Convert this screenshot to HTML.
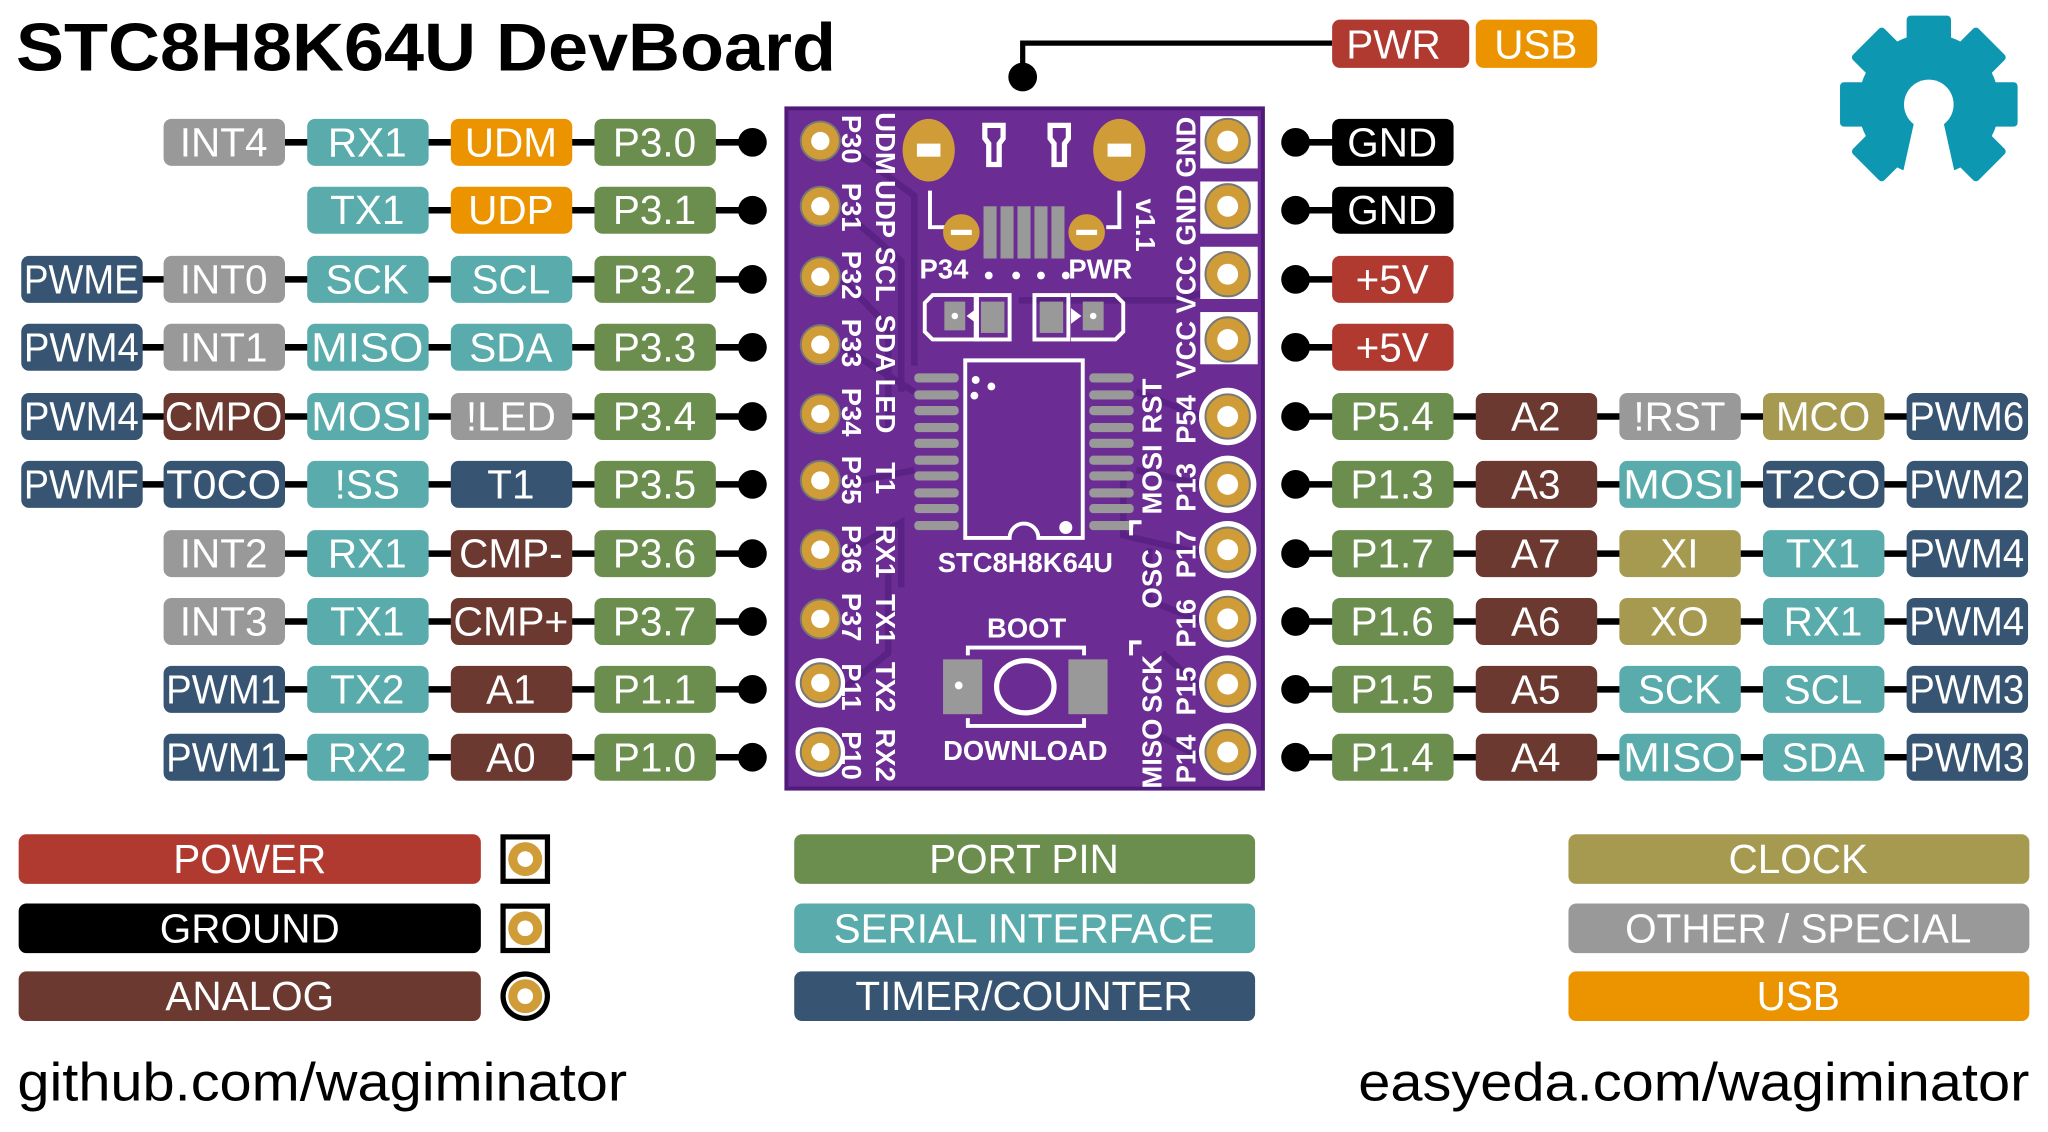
<!DOCTYPE html>
<html><head><meta charset="utf-8"><style>html,body{margin:0;padding:0;background:#fff;width:2048px;height:1132px;overflow:hidden}svg{display:block}</style></head><body>
<svg width="2048" height="1132" viewBox="0 0 1568 867" xmlns="http://www.w3.org/2000/svg" font-family="Liberation Sans, sans-serif">
<defs>
<style>
.l{fill:#fff;font-size:31px;text-anchor:middle;dominant-baseline:central}
.bt{fill:#fff;font-size:21px;font-weight:bold;dominant-baseline:central}
</style>
</defs>
<rect width="1568" height="867" fill="#fff"/>
<text x="12" y="54" font-size="52" font-weight="bold" fill="#000" textLength="628" lengthAdjust="spacingAndGlyphs">STC8H8K64U DevBoard</text>

<!-- top PWR/USB -->
<path d="M1020 33 H783 V58" stroke="#000" stroke-width="4" fill="none"/>
<circle cx="783" cy="59" r="11" fill="#000"/>
<rect x="1020" y="15" width="105" height="37" rx="6" fill="#b03a30"/><text class="l" x="1067" y="34">PWR</text>
<rect x="1130" y="15" width="93" height="37" rx="6" fill="#ec9400"/><text class="l" x="1176" y="34">USB</text>

<!-- gear -->
<g transform="translate(1477,80)" fill="#0e97b0">
<circle r="54"/>
<rect x="-17" y="-68" width="34" height="30" rx="3"/>
<rect x="-17" y="-68" width="34" height="30" rx="3" transform="rotate(45)"/>
<rect x="-17" y="-68" width="34" height="30" rx="3" transform="rotate(90)"/>
<rect x="-17" y="-68" width="34" height="30" rx="3" transform="rotate(135)"/>
<rect x="-17" y="-68" width="34" height="30" rx="3" transform="rotate(225)"/>
<rect x="-17" y="-68" width="34" height="30" rx="3" transform="rotate(270)"/>
<rect x="-17" y="-68" width="34" height="30" rx="3" transform="rotate(315)"/>
<circle r="19" fill="#fff"/>
<path d="M-10 8 L-22 62 L22 62 L10 8 Z" fill="#fff"/>
</g>

<!-- connector lines -->
<g stroke="#000" stroke-width="5">
<line x1="170" y1="109" x2="576" y2="109"/>
<line x1="280" y1="161" x2="576" y2="161"/>
<line x1="60" y1="214" x2="576" y2="214"/>
<line x1="60" y1="266" x2="576" y2="266"/>
<line x1="60" y1="319" x2="576" y2="319"/>
<line x1="60" y1="371" x2="576" y2="371"/>
<line x1="170" y1="424" x2="576" y2="424"/>
<line x1="170" y1="476" x2="576" y2="476"/>
<line x1="170" y1="528" x2="576" y2="528"/>
<line x1="170" y1="580" x2="576" y2="580"/>
<line x1="992" y1="109" x2="1060" y2="109"/>
<line x1="992" y1="161" x2="1060" y2="161"/>
<line x1="992" y1="214" x2="1060" y2="214"/>
<line x1="992" y1="266" x2="1060" y2="266"/>
<line x1="992" y1="319" x2="1500" y2="319"/>
<line x1="992" y1="371" x2="1500" y2="371"/>
<line x1="992" y1="424" x2="1500" y2="424"/>
<line x1="992" y1="476" x2="1500" y2="476"/>
<line x1="992" y1="528" x2="1500" y2="528"/>
<line x1="992" y1="580" x2="1500" y2="580"/>
</g>
<g fill="#000">
<circle cx="576" cy="109" r="11"/><circle cx="576" cy="161" r="11"/><circle cx="576" cy="214" r="11"/><circle cx="576" cy="266" r="11"/><circle cx="576" cy="319" r="11"/><circle cx="576" cy="371" r="11"/><circle cx="576" cy="424" r="11"/><circle cx="576" cy="476" r="11"/><circle cx="576" cy="528" r="11"/><circle cx="576" cy="580" r="11"/>
<circle cx="992" cy="109" r="11"/><circle cx="992" cy="161" r="11"/><circle cx="992" cy="214" r="11"/><circle cx="992" cy="266" r="11"/><circle cx="992" cy="319" r="11"/><circle cx="992" cy="371" r="11"/><circle cx="992" cy="424" r="11"/><circle cx="992" cy="476" r="11"/><circle cx="992" cy="528" r="11"/><circle cx="992" cy="580" r="11"/>
</g>

<!-- LEFT labels -->
<g>
<rect x="125" y="91" width="93" height="36" rx="6" fill="#999"/><text class="l" x="171" y="109">INT4</text>
<rect x="235" y="91" width="93" height="36" rx="6" fill="#5aabab"/><text class="l" x="281" y="109">RX1</text>
<rect x="345" y="91" width="93" height="36" rx="6" fill="#ec9400"/><text class="l" x="391" y="109">UDM</text>
<rect x="455" y="91" width="93" height="36" rx="6" fill="#6b8e4e"/><text class="l" x="501" y="109">P3.0</text>
<rect x="235" y="143" width="93" height="36" rx="6" fill="#5aabab"/><text class="l" x="281" y="161">TX1</text>
<rect x="345" y="143" width="93" height="36" rx="6" fill="#ec9400"/><text class="l" x="391" y="161">UDP</text>
<rect x="455" y="143" width="93" height="36" rx="6" fill="#6b8e4e"/><text class="l" x="501" y="161">P3.1</text>
<rect x="16" y="196" width="93" height="36" rx="6" fill="#375572"/><text class="l" x="62" y="214" textLength="88" lengthAdjust="spacingAndGlyphs">PWME</text>
<rect x="125" y="196" width="93" height="36" rx="6" fill="#999"/><text class="l" x="171" y="214">INT0</text>
<rect x="235" y="196" width="93" height="36" rx="6" fill="#5aabab"/><text class="l" x="281" y="214">SCK</text>
<rect x="345" y="196" width="93" height="36" rx="6" fill="#5aabab"/><text class="l" x="391" y="214">SCL</text>
<rect x="455" y="196" width="93" height="36" rx="6" fill="#6b8e4e"/><text class="l" x="501" y="214">P3.2</text>
<rect x="16" y="248" width="93" height="36" rx="6" fill="#375572"/><text class="l" x="62" y="266" textLength="88" lengthAdjust="spacingAndGlyphs">PWM4</text>
<rect x="125" y="248" width="93" height="36" rx="6" fill="#999"/><text class="l" x="171" y="266">INT1</text>
<rect x="235" y="248" width="93" height="36" rx="6" fill="#5aabab"/><text class="l" x="281" y="266" textLength="86" lengthAdjust="spacingAndGlyphs">MISO</text>
<rect x="345" y="248" width="93" height="36" rx="6" fill="#5aabab"/><text class="l" x="391" y="266">SDA</text>
<rect x="455" y="248" width="93" height="36" rx="6" fill="#6b8e4e"/><text class="l" x="501" y="266">P3.3</text>
<rect x="16" y="301" width="93" height="36" rx="6" fill="#375572"/><text class="l" x="62" y="319" textLength="88" lengthAdjust="spacingAndGlyphs">PWM4</text>
<rect x="125" y="301" width="93" height="36" rx="6" fill="#6b3930"/><text class="l" x="171" y="319" textLength="90" lengthAdjust="spacingAndGlyphs">CMPO</text>
<rect x="235" y="301" width="93" height="36" rx="6" fill="#5aabab"/><text class="l" x="281" y="319" textLength="86" lengthAdjust="spacingAndGlyphs">MOSI</text>
<rect x="345" y="301" width="93" height="36" rx="6" fill="#999"/><text class="l" x="391" y="319">!LED</text>
<rect x="455" y="301" width="93" height="36" rx="6" fill="#6b8e4e"/><text class="l" x="501" y="319">P3.4</text>
<rect x="16" y="353" width="93" height="36" rx="6" fill="#375572"/><text class="l" x="62" y="371" textLength="88" lengthAdjust="spacingAndGlyphs">PWMF</text>
<rect x="125" y="353" width="93" height="36" rx="6" fill="#375572"/><text class="l" x="171" y="371" textLength="88" lengthAdjust="spacingAndGlyphs">T0CO</text>
<rect x="235" y="353" width="93" height="36" rx="6" fill="#5aabab"/><text class="l" x="281" y="371">!SS</text>
<rect x="345" y="353" width="93" height="36" rx="6" fill="#375572"/><text class="l" x="391" y="371">T1</text>
<rect x="455" y="353" width="93" height="36" rx="6" fill="#6b8e4e"/><text class="l" x="501" y="371">P3.5</text>
<rect x="125" y="406" width="93" height="36" rx="6" fill="#999"/><text class="l" x="171" y="424">INT2</text>
<rect x="235" y="406" width="93" height="36" rx="6" fill="#5aabab"/><text class="l" x="281" y="424">RX1</text>
<rect x="345" y="406" width="93" height="36" rx="6" fill="#6b3930"/><text class="l" x="391" y="424">CMP-</text>
<rect x="455" y="406" width="93" height="36" rx="6" fill="#6b8e4e"/><text class="l" x="501" y="424">P3.6</text>
<rect x="125" y="458" width="93" height="36" rx="6" fill="#999"/><text class="l" x="171" y="476">INT3</text>
<rect x="235" y="458" width="93" height="36" rx="6" fill="#5aabab"/><text class="l" x="281" y="476">TX1</text>
<rect x="345" y="458" width="93" height="36" rx="6" fill="#6b3930"/><text class="l" x="391" y="476" textLength="88" lengthAdjust="spacingAndGlyphs">CMP+</text>
<rect x="455" y="458" width="93" height="36" rx="6" fill="#6b8e4e"/><text class="l" x="501" y="476">P3.7</text>
<rect x="125" y="510" width="93" height="36" rx="6" fill="#375572"/><text class="l" x="171" y="528" textLength="88" lengthAdjust="spacingAndGlyphs">PWM1</text>
<rect x="235" y="510" width="93" height="36" rx="6" fill="#5aabab"/><text class="l" x="281" y="528">TX2</text>
<rect x="345" y="510" width="93" height="36" rx="6" fill="#6b3930"/><text class="l" x="391" y="528">A1</text>
<rect x="455" y="510" width="93" height="36" rx="6" fill="#6b8e4e"/><text class="l" x="501" y="528">P1.1</text>
<rect x="125" y="562" width="93" height="36" rx="6" fill="#375572"/><text class="l" x="171" y="580" textLength="88" lengthAdjust="spacingAndGlyphs">PWM1</text>
<rect x="235" y="562" width="93" height="36" rx="6" fill="#5aabab"/><text class="l" x="281" y="580">RX2</text>
<rect x="345" y="562" width="93" height="36" rx="6" fill="#6b3930"/><text class="l" x="391" y="580">A0</text>
<rect x="455" y="562" width="93" height="36" rx="6" fill="#6b8e4e"/><text class="l" x="501" y="580">P1.0</text>
</g>

<!-- RIGHT labels -->
<g>
<rect x="1020" y="91" width="93" height="36" rx="6" fill="#000"/><text class="l" x="1066" y="109">GND</text>
<rect x="1020" y="143" width="93" height="36" rx="6" fill="#000"/><text class="l" x="1066" y="161">GND</text>
<rect x="1020" y="196" width="93" height="36" rx="6" fill="#b03a30"/><text class="l" x="1066" y="214">+5V</text>
<rect x="1020" y="248" width="93" height="36" rx="6" fill="#b03a30"/><text class="l" x="1066" y="266">+5V</text>
<rect x="1020" y="301" width="93" height="36" rx="6" fill="#6b8e4e"/><text class="l" x="1066" y="319">P5.4</text>
<rect x="1130" y="301" width="93" height="36" rx="6" fill="#6b3930"/><text class="l" x="1176" y="319">A2</text>
<rect x="1240" y="301" width="93" height="36" rx="6" fill="#999"/><text class="l" x="1286" y="319">!RST</text>
<rect x="1350" y="301" width="93" height="36" rx="6" fill="#a59a50"/><text class="l" x="1396" y="319">MCO</text>
<rect x="1460" y="301" width="93" height="36" rx="6" fill="#375572"/><text class="l" x="1506" y="319" textLength="88" lengthAdjust="spacingAndGlyphs">PWM6</text>
<rect x="1020" y="353" width="93" height="36" rx="6" fill="#6b8e4e"/><text class="l" x="1066" y="371">P1.3</text>
<rect x="1130" y="353" width="93" height="36" rx="6" fill="#6b3930"/><text class="l" x="1176" y="371">A3</text>
<rect x="1240" y="353" width="93" height="36" rx="6" fill="#5aabab"/><text class="l" x="1286" y="371" textLength="86" lengthAdjust="spacingAndGlyphs">MOSI</text>
<rect x="1350" y="353" width="93" height="36" rx="6" fill="#375572"/><text class="l" x="1396" y="371" textLength="88" lengthAdjust="spacingAndGlyphs">T2CO</text>
<rect x="1460" y="353" width="93" height="36" rx="6" fill="#375572"/><text class="l" x="1506" y="371" textLength="88" lengthAdjust="spacingAndGlyphs">PWM2</text>
<rect x="1020" y="406" width="93" height="36" rx="6" fill="#6b8e4e"/><text class="l" x="1066" y="424">P1.7</text>
<rect x="1130" y="406" width="93" height="36" rx="6" fill="#6b3930"/><text class="l" x="1176" y="424">A7</text>
<rect x="1240" y="406" width="93" height="36" rx="6" fill="#a59a50"/><text class="l" x="1286" y="424">XI</text>
<rect x="1350" y="406" width="93" height="36" rx="6" fill="#5aabab"/><text class="l" x="1396" y="424">TX1</text>
<rect x="1460" y="406" width="93" height="36" rx="6" fill="#375572"/><text class="l" x="1506" y="424" textLength="88" lengthAdjust="spacingAndGlyphs">PWM4</text>
<rect x="1020" y="458" width="93" height="36" rx="6" fill="#6b8e4e"/><text class="l" x="1066" y="476">P1.6</text>
<rect x="1130" y="458" width="93" height="36" rx="6" fill="#6b3930"/><text class="l" x="1176" y="476">A6</text>
<rect x="1240" y="458" width="93" height="36" rx="6" fill="#a59a50"/><text class="l" x="1286" y="476">XO</text>
<rect x="1350" y="458" width="93" height="36" rx="6" fill="#5aabab"/><text class="l" x="1396" y="476">RX1</text>
<rect x="1460" y="458" width="93" height="36" rx="6" fill="#375572"/><text class="l" x="1506" y="476" textLength="88" lengthAdjust="spacingAndGlyphs">PWM4</text>
<rect x="1020" y="510" width="93" height="36" rx="6" fill="#6b8e4e"/><text class="l" x="1066" y="528">P1.5</text>
<rect x="1130" y="510" width="93" height="36" rx="6" fill="#6b3930"/><text class="l" x="1176" y="528">A5</text>
<rect x="1240" y="510" width="93" height="36" rx="6" fill="#5aabab"/><text class="l" x="1286" y="528">SCK</text>
<rect x="1350" y="510" width="93" height="36" rx="6" fill="#5aabab"/><text class="l" x="1396" y="528">SCL</text>
<rect x="1460" y="510" width="93" height="36" rx="6" fill="#375572"/><text class="l" x="1506" y="528" textLength="88" lengthAdjust="spacingAndGlyphs">PWM3</text>
<rect x="1020" y="562" width="93" height="36" rx="6" fill="#6b8e4e"/><text class="l" x="1066" y="580">P1.4</text>
<rect x="1130" y="562" width="93" height="36" rx="6" fill="#6b3930"/><text class="l" x="1176" y="580">A4</text>
<rect x="1240" y="562" width="93" height="36" rx="6" fill="#5aabab"/><text class="l" x="1286" y="580" textLength="86" lengthAdjust="spacingAndGlyphs">MISO</text>
<rect x="1350" y="562" width="93" height="36" rx="6" fill="#5aabab"/><text class="l" x="1396" y="580">SDA</text>
<rect x="1460" y="562" width="93" height="36" rx="6" fill="#375572"/><text class="l" x="1506" y="580" textLength="88" lengthAdjust="spacingAndGlyphs">PWM3</text>
</g>

<!-- BOARD -->
<rect x="602" y="83" width="365" height="521" fill="#6b2c94"/>
<rect x="602" y="83" width="365" height="521" fill="none" stroke="#4f1a78" stroke-width="3"/>
<g stroke="#5a2285" stroke-width="5" fill="none">
<path d="M645 109 L700 150 L700 280"/><path d="M645 161 L690 200 L690 300"/><path d="M645 214 L680 250 L680 330"/><path d="M645 266 L700 300"/><path d="M645 371 L700 360"/>
<path d="M645 424 L690 400 L690 450"/><path d="M645 528 L680 500 L680 440"/>
<path d="M920 319 L870 300"/><path d="M920 371 L870 360"/><path d="M920 424 L860 410 L860 360"/><path d="M920 476 L880 460 L880 420"/><path d="M920 528 L890 500"/><path d="M920 580 L880 560"/>
<path d="M960 214 L900 230 L780 230"/>
</g>
<g>
<g fill="#cf9c38" stroke="#777" stroke-width="1.5">
<circle cx="628" cy="108" r="15"/><circle cx="628" cy="158" r="15"/><circle cx="628" cy="212" r="15"/><circle cx="628" cy="264" r="15"/><circle cx="628" cy="317" r="15"/><circle cx="628" cy="368" r="15"/><circle cx="628" cy="421" r="15"/><circle cx="628" cy="474" r="15"/>
</g>
<circle cx="628" cy="523" r="19" fill="#fff"/><circle cx="628" cy="523" r="15" fill="#cf9c38" stroke="#777" stroke-width="1.5"/>
<circle cx="628" cy="576" r="19" fill="#fff"/><circle cx="628" cy="576" r="15" fill="#cf9c38" stroke="#777" stroke-width="1.5"/>
<g fill="#fff">
<circle cx="628" cy="108" r="7"/><circle cx="628" cy="158" r="7"/><circle cx="628" cy="212" r="7"/><circle cx="628" cy="264" r="7"/><circle cx="628" cy="317" r="7"/><circle cx="628" cy="368" r="7"/><circle cx="628" cy="421" r="7"/><circle cx="628" cy="474" r="7"/><circle cx="628" cy="523" r="7"/><circle cx="628" cy="576" r="7"/>
</g>
</g>
<g>
<rect x="919" y="89" width="44" height="40" fill="#fff"/><rect x="919" y="139" width="44" height="40" fill="#fff"/>
<rect x="919" y="189" width="44" height="40" fill="#fff"/><rect x="919" y="239" width="44" height="40" fill="#fff"/>
<circle cx="940" cy="319" r="22" fill="#fff"/><circle cx="940" cy="371" r="22" fill="#fff"/><circle cx="940" cy="421" r="22" fill="#fff"/><circle cx="940" cy="474" r="22" fill="#fff"/><circle cx="940" cy="524" r="22" fill="#fff"/><circle cx="940" cy="576" r="22" fill="#fff"/>
<g fill="#cf9c38" stroke="#777" stroke-width="1.5">
<circle cx="940" cy="108" r="17"/><circle cx="940" cy="158" r="17"/><circle cx="940" cy="210" r="17"/><circle cx="940" cy="260" r="17"/><circle cx="940" cy="319" r="17"/><circle cx="940" cy="371" r="17"/><circle cx="940" cy="421" r="17"/><circle cx="940" cy="474" r="17"/><circle cx="940" cy="524" r="17"/><circle cx="940" cy="576" r="17"/>
</g>
<g fill="#fff">
<circle cx="940" cy="108" r="8"/><circle cx="940" cy="158" r="8"/><circle cx="940" cy="210" r="8"/><circle cx="940" cy="260" r="8"/><circle cx="940" cy="319" r="8"/><circle cx="940" cy="371" r="8"/><circle cx="940" cy="421" r="8"/><circle cx="940" cy="474" r="8"/><circle cx="940" cy="524" r="8"/><circle cx="940" cy="576" r="8"/>
</g>
</g>
<g>
<ellipse cx="711" cy="115" rx="20" ry="24" fill="#cf9c38"/><rect x="702" y="110" width="18" height="10" fill="#fff"/>
<ellipse cx="857" cy="115" rx="20" ry="24" fill="#cf9c38"/><rect x="848" y="110" width="18" height="10" fill="#fff"/>
<path d="M754 96 h14 v10 l-3 4 v16 h-8 v-16 l-3 -4 z" fill="none" stroke="#fff" stroke-width="4"/>
<path d="M804 96 h14 v10 l-3 4 v16 h-8 v-16 l-3 -4 z" fill="none" stroke="#fff" stroke-width="4"/>
<path d="M712 146 v28 h12 M857 146 v28 h-10" stroke="#fff" stroke-width="3" fill="none"/>
<circle cx="736" cy="178" r="14" fill="#cf9c38"/><rect x="728" y="176" width="16" height="4" fill="#fff"/>
<circle cx="832" cy="178" r="14" fill="#cf9c38"/><rect x="824" y="176" width="16" height="4" fill="#fff"/>
<g fill="#999"><rect x="753" y="158" width="10" height="40"/><rect x="766" y="158" width="10" height="40"/><rect x="779" y="158" width="10" height="40"/><rect x="792" y="158" width="10" height="40"/><rect x="805" y="158" width="10" height="40"/></g>
<text class="bt" font-size="19" transform="translate(877,152) rotate(90)" x="0" y="0">v1.1</text>
<g fill="#fff"><circle cx="757" cy="211" r="3"/><circle cx="778" cy="211" r="3"/><circle cx="797" cy="211" r="3"/><circle cx="816" cy="211" r="3"/></g>
<text x="704" y="206" class="bt" font-size="20">P34</text>
<text x="818" y="206" class="bt" font-size="20">PWR</text>
<path d="M714 226 h34 v34 h-34 l-6 -6 v-22 z" fill="none" stroke="#fff" stroke-width="3"/>
<rect x="723" y="231" width="16" height="22" fill="#999"/><circle cx="731" cy="242" r="2.5" fill="#fff"/>
<path d="M748 236 l-8 6 l8 6 z" fill="#fff"/>
<rect x="747" y="226" width="26" height="34" fill="none" stroke="#fff" stroke-width="3"/><rect x="751" y="231" width="18" height="24" fill="#999"/>
<rect x="792" y="226" width="26" height="34" fill="none" stroke="#fff" stroke-width="3"/><rect x="796" y="231" width="18" height="24" fill="#999"/>
<path d="M820 236 l8 6 l-8 6 z" fill="#fff"/>
<path d="M820 226 h34 l6 6 v22 l-6 6 h-34" fill="none" stroke="#fff" stroke-width="3"/>
<rect x="829" y="231" width="16" height="22" fill="#999"/><circle cx="837" cy="242" r="2.5" fill="#fff"/>
</g>
<g>
<path d="M739 276 H829 V412 H795 a10 10 0 0 0 -22 0 H739 Z" fill="none" stroke="#fff" stroke-width="3"/>
<circle cx="747" cy="291" r="3" fill="#fff"/><circle cx="759" cy="296" r="3" fill="#fff"/><circle cx="746" cy="303" r="3" fill="#fff"/>
<circle cx="816" cy="404" r="5" fill="#fff"/>
<g fill="#999">
<rect x="700" y="286" width="34" height="7" rx="3"/><rect x="700" y="299" width="34" height="7" rx="3"/><rect x="700" y="311" width="34" height="7" rx="3"/><rect x="700" y="324" width="34" height="7" rx="3"/><rect x="700" y="336" width="34" height="7" rx="3"/><rect x="700" y="349" width="34" height="7" rx="3"/><rect x="700" y="361" width="34" height="7" rx="3"/><rect x="700" y="374" width="34" height="7" rx="3"/><rect x="700" y="386" width="34" height="7" rx="3"/><rect x="700" y="399" width="34" height="7" rx="3"/>
<rect x="834" y="286" width="34" height="7" rx="3"/><rect x="834" y="299" width="34" height="7" rx="3"/><rect x="834" y="311" width="34" height="7" rx="3"/><rect x="834" y="324" width="34" height="7" rx="3"/><rect x="834" y="336" width="34" height="7" rx="3"/><rect x="834" y="349" width="34" height="7" rx="3"/><rect x="834" y="361" width="34" height="7" rx="3"/><rect x="834" y="374" width="34" height="7" rx="3"/><rect x="834" y="386" width="34" height="7" rx="3"/><rect x="834" y="399" width="34" height="7" rx="3"/>
</g>
<text x="785" y="431" class="bt" font-size="21" text-anchor="middle">STC8H8K64U</text>
</g>
<g>
<text x="786" y="481" class="bt" font-size="21" text-anchor="middle">BOOT</text>
<path d="M741 502 V496 H830 V502 M741 550 V556 H830 V550" stroke="#fff" stroke-width="3" fill="none"/>
<rect x="722" y="505" width="30" height="42" fill="#999"/><circle cx="734" cy="525" r="3" fill="#fff"/>
<rect x="818" y="505" width="30" height="42" fill="#999"/>
<ellipse cx="785" cy="526" rx="22" ry="20" fill="none" stroke="#fff" stroke-width="4"/>
<text x="785" y="575" class="bt" font-size="21" text-anchor="middle">DOWNLOAD</text>
</g>
<g>
<g transform="translate(652,88) rotate(90)"><text class="bt" font-size="23" x="0" y="0">P30</text><text class="bt" font-size="23" x="52" y="0">P31</text><text class="bt" font-size="23" x="104" y="0">P32</text><text class="bt" font-size="23" x="156" y="0">P33</text><text class="bt" font-size="23" x="209" y="0">P34</text><text class="bt" font-size="23" x="261" y="0">P35</text><text class="bt" font-size="23" x="314" y="0">P36</text><text class="bt" font-size="23" x="366" y="0">P37</text><text class="bt" font-size="23" x="420" y="0">P11</text><text class="bt" font-size="23" x="472" y="0">P10</text></g>
<g transform="translate(678,86) rotate(90)"><text class="bt" font-size="23" x="0" y="0">UDM</text><text class="bt" font-size="23" x="52" y="0">UDP</text><text class="bt" font-size="23" x="103" y="0">SCL</text><text class="bt" font-size="23" x="155" y="0">SDA</text><text class="bt" font-size="23" x="204" y="0">LED</text><text class="bt" font-size="23" x="268" y="0">T1</text><text class="bt" font-size="23" x="316" y="0">RX1</text><text class="bt" font-size="23" x="369" y="0">TX1</text><text class="bt" font-size="23" x="421" y="0">TX2</text><text class="bt" font-size="23" x="472" y="0">RX2</text></g>
<g transform="translate(908,600) rotate(-90)"><text class="bt" font-size="23" x="0" y="0">P14</text><text class="bt" font-size="23" x="52" y="0">P15</text><text class="bt" font-size="23" x="104" y="0">P16</text><text class="bt" font-size="23" x="157" y="0">P17</text><text class="bt" font-size="23" x="208" y="0">P13</text><text class="bt" font-size="23" x="260" y="0">P54</text><text class="bt" font-size="23" x="310" y="0">VCC</text><text class="bt" font-size="23" x="360" y="0">VCC</text><text class="bt" font-size="23" x="412" y="0">GND</text><text class="bt" font-size="23" x="464" y="0">GND</text></g>
<g transform="translate(882,604) rotate(-90)"><text class="bt" font-size="23" x="0" y="0">MISO</text><text class="bt" font-size="23" x="58" y="0">SCK</text><text class="bt" font-size="23" x="138" y="0">OSC</text><text class="bt" font-size="23" x="210" y="0">MOSI</text><text class="bt" font-size="23" x="272" y="0">RST</text></g>
</g>
<path d="M874 492 h-8 v10 M874 400 h-8 v10" stroke="#fff" stroke-width="3" fill="none"/>

<!-- LEGEND -->
<g>
<rect x="14" y="639" width="354" height="38" rx="6" fill="#b03a30"/><text class="l" x="191" y="658">POWER</text>
<rect x="14" y="692" width="354" height="38" rx="6" fill="#000"/><text class="l" x="191" y="711">GROUND</text>
<rect x="14" y="744" width="354" height="38" rx="6" fill="#6b3930"/><text class="l" x="191" y="763">ANALOG</text>
<rect x="608" y="639" width="353" height="38" rx="6" fill="#6b8e4e"/><text class="l" x="784" y="658">PORT PIN</text>
<rect x="608" y="692" width="353" height="38" rx="6" fill="#5aabab"/><text class="l" x="784" y="711">SERIAL INTERFACE</text>
<rect x="608" y="744" width="353" height="38" rx="6" fill="#375572"/><text class="l" x="784" y="763">TIMER/COUNTER</text>
<rect x="1201" y="639" width="353" height="38" rx="6" fill="#a59a50"/><text class="l" x="1377" y="658">CLOCK</text>
<rect x="1201" y="692" width="353" height="38" rx="6" fill="#999"/><text class="l" x="1377" y="711">OTHER / SPECIAL</text>
<rect x="1201" y="744" width="353" height="38" rx="6" fill="#ec9400"/><text class="l" x="1377" y="763">USB</text>
<rect x="383" y="639" width="38" height="38" fill="#000"/><rect x="387" y="643" width="30" height="30" fill="#fff"/><circle cx="402" cy="658" r="13" fill="#cf9c38"/><circle cx="402" cy="658" r="6" fill="#fff"/>
<rect x="383" y="692" width="38" height="38" fill="#000"/><rect x="387" y="696" width="30" height="30" fill="#fff"/><circle cx="402" cy="711" r="13" fill="#cf9c38"/><circle cx="402" cy="711" r="6" fill="#fff"/>
<circle cx="402" cy="763" r="19" fill="#000"/><circle cx="402" cy="763" r="15" fill="#fff"/><circle cx="402" cy="763" r="13" fill="#cf9c38"/><circle cx="402" cy="763" r="6" fill="#fff"/>
</g>

<text x="13" y="843" font-size="41" fill="#000" textLength="467" lengthAdjust="spacingAndGlyphs">github.com/wagiminator</text>
<text x="1040" y="843" font-size="41" fill="#000" textLength="514" lengthAdjust="spacingAndGlyphs">easyeda.com/wagiminator</text>
</svg>
</body></html>
